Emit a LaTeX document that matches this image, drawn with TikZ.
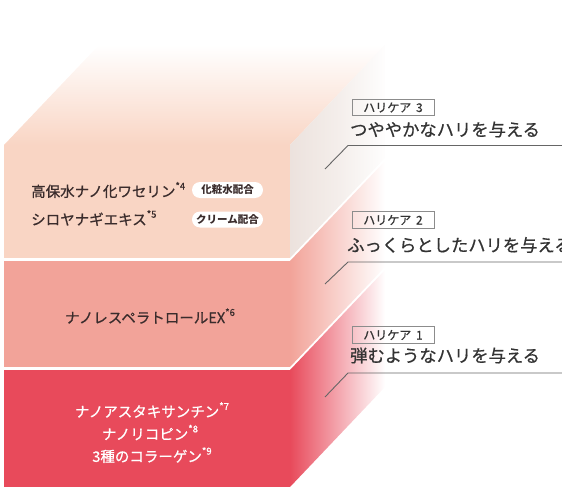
\documentclass[tikz,border=0pt]{standalone}
\usepackage{fontspec}
\setmainfont{Noto Sans CJK JP}
\newfontfamily\medfont{Noto Sans CJK JP}[FakeBold=0.7]
\definecolor{Lthree}{HTML}{F9D5C4}
\definecolor{Ltwo}{HTML}{F2A399}
\definecolor{Lone}{HTML}{E84A5B}
\definecolor{txtdark}{HTML}{3A2C2C}
\definecolor{lbl}{HTML}{333333}
\definecolor{sidethree}{HTML}{ECE2DD}
\newcommand\fnmark[1]{\raisebox{0.5em}{\fontsize{9.5}{9.5}\selectfont *#1}}
\begin{document}
\begin{tikzpicture}[x=1pt,y=-1pt,
  layertext/.style={font=\fontsize{14.5}{24}\selectfont\medfont, text=txtdark, inner sep=0pt},
  pill/.style={fill=white, rounded corners=8pt, minimum width=71pt, minimum height=16pt, inner sep=0pt, font=\fontsize{10.5}{10.5}\selectfont\bfseries, text=txtdark},
  tagbox/.style={draw=gray!90, line width=0.9pt, minimum width=82pt, minimum height=16.5pt, inner sep=0pt, font=\fontsize{12}{12}\selectfont\medfont, text=lbl},
  bigtext/.style={font=\fontsize{17.3}{17.3}\selectfont\medfont, text=lbl, inner sep=0pt, anchor=west},
  leader/.style={draw=gray!80!black, line width=0.9pt}
]
\useasboundingbox (0,0) rectangle (562,492);
% top face
\shade[top color=white, bottom color=Lthree, middle color=Lthree!50] (4,145) -- (99,45) -- (385,45) -- (290,145) -- cycle;
% side faces
\shade[left color=sidethree, right color=white!96!sidethree, middle color=sidethree!60] (290,145) -- (385,45) -- (385,158) -- (290,258) -- cycle;
\shade[left color=Ltwo, right color=white, middle color=Ltwo!50] (290,261) -- (385,161) -- (385,267) -- (290,367) -- cycle;
\shade[left color=Lone, right color=white, middle color=Lone!50] (290,370) -- (385,270) -- (385,387) -- (290,487) -- cycle;
% front faces
\fill[Lthree] (4,145) rectangle (290,258);
\fill[Ltwo] (4,261) rectangle (290,367);
\fill[Lone] (4,370) rectangle (290,487);
% layer 3 texts
\node[layertext, anchor=west] (i1) at (31,190) {高保水ナノ化ワセリン\fnmark{4}};
\node[layertext, anchor=west] (i2) at (31,218) {シロヤナギエキス\fnmark{5}};
\node[pill] (p1) at (227.5,190) {化粧水配合};
\node[pill] (p2) at (227.5,219.5) {クリーム配合};
% layer 2 text
\node[layertext] (i3) at (150,316) {ナノレスペラトロールEX\fnmark{6}};
% layer 1 texts
\node[layertext, text=white] (i4) at (152,410) {ナノアスタキサンチン\fnmark{7}};
\node[layertext, text=white] (i5) at (150,432.5) {ナノリコピン\fnmark{8}};
\node[layertext, text=white] (i6) at (152,455) {3種のコラーゲン\fnmark{9}};
% right labels
\node[tagbox] (t3) at (393,107.5) {ハリケア\hspace{0.4em}3};
\node[bigtext] (h3) at (350,129.5) {つややかなハリを与える};
\node[tagbox] (t2) at (393,220) {ハリケア\hspace{0.4em}2};
\node[bigtext] (h2) at (347,245) {ふっくらとしたハリを与える};
\node[tagbox] (t1) at (393,335) {ハリケア\hspace{0.4em}1};
\node[bigtext] (h1) at (350,355.5) {弾むようなハリを与える};
% leader lines
\coordinate (a3) at (325,169); \coordinate (b3) at (348,145.5); \coordinate (c3) at (562,145.5);
\coordinate (a2) at (325,284); \coordinate (b2) at (348,262); \coordinate (c2) at (562,262);
\coordinate (a1) at (325,397); \coordinate (b1) at (348,373); \coordinate (c1) at (562,373);
\draw[leader] (a3) -- (b3) -- (c3);
\draw[leader] (a2) -- (b2) -- (c2);
\draw[leader] (a1) -- (b1) -- (c1);
\end{tikzpicture}
\end{document}
